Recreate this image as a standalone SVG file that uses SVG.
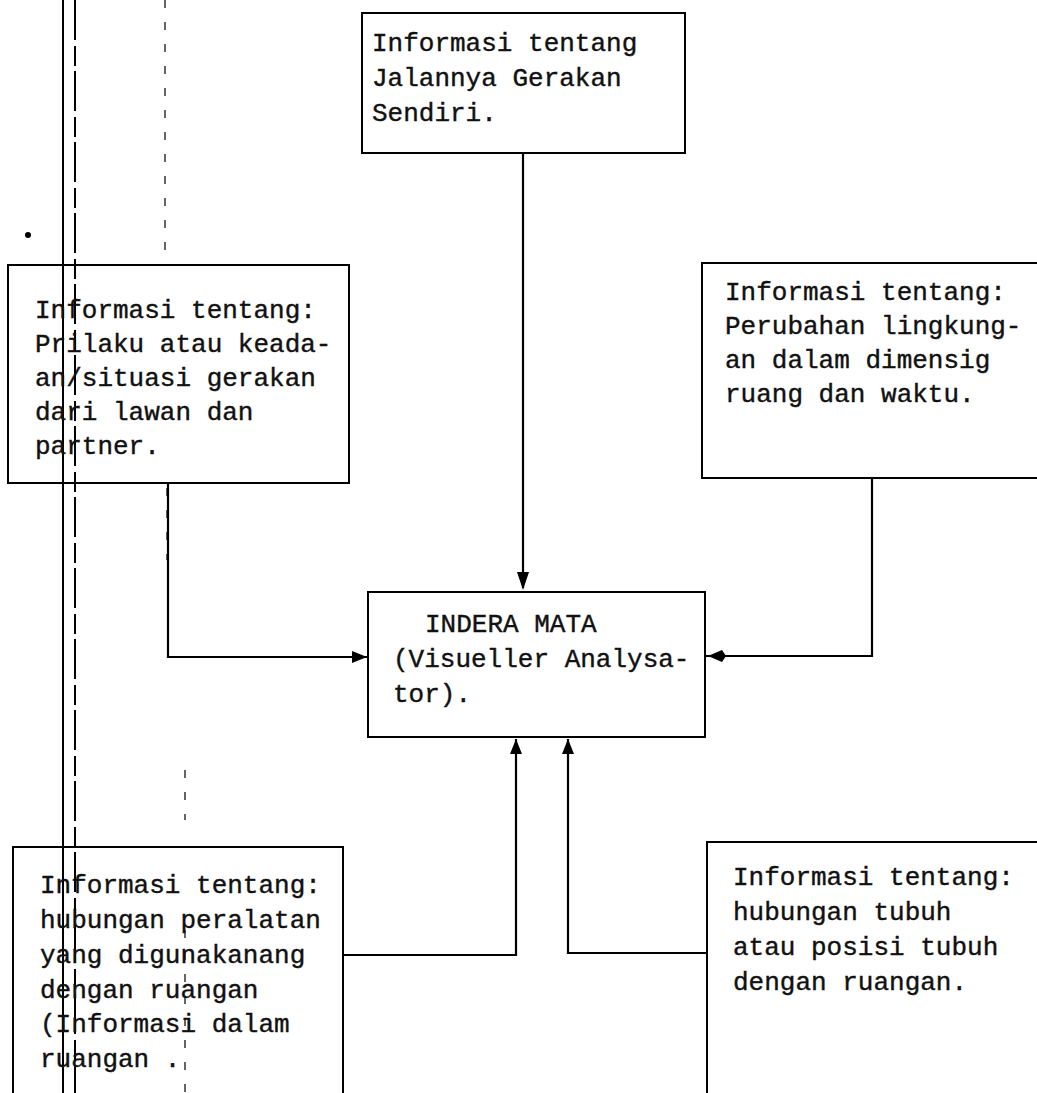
<svg xmlns="http://www.w3.org/2000/svg" width="1037" height="1093" viewBox="0 0 1037 1093">
<style>
.box{fill:none;stroke:#000;stroke-width:2}
.t{font-family:"Liberation Mono","DejaVu Sans Mono",monospace;font-size:26px;fill:#111;stroke:#111;stroke-width:0.4}
.c{fill:none;stroke:#000;stroke-width:2.2}
.m{fill:none;stroke:#000;stroke-width:2}
.d{fill:none;stroke:#000;stroke-width:1.2;stroke-dasharray:8 14}
</style>
<rect width="1037" height="1093" fill="#fff"/>
<g id="margin">
<line class="m" x1="63" y1="0" x2="63" y2="1093"/>
<line class="m" x1="75" y1="0" x2="75" y2="1093" stroke-dasharray="40 6 20 5"/>
<line class="d" x1="165" y1="0" x2="165" y2="260"/>
<line class="d" x1="167" y1="488" x2="167" y2="560"/>
<line class="d" x1="185" y1="770" x2="185" y2="820"/>
<line class="d" x1="185" y1="930" x2="185" y2="1093"/>
<circle cx="28" cy="235" r="3" fill="#000"/>
</g>
<g id="connectors">
<path class="c" d="M523,153 V588"/>
<path d="M517,572 L523,590 L529,572 Z" fill="#000"/>
<path class="c" d="M168,483 V657 H367"/>
<path d="M352,651 L367,657 L352,663 Z" fill="#000"/>
<path class="c" d="M872,478 V656 H706"/>
<path d="M708,656 L722,650 L726,656 L722,662 Z" fill="#000"/>
<path class="c" d="M343,955 H516 V739"/>
<path d="M510,754 L516,739 L522,754 Z" fill="#000"/>
<path class="c" d="M707,953 H568 V739"/>
<path d="M562,754 L568,739 L574,754 Z" fill="#000"/>
</g>
<g id="node-top">
<rect class="box" x="362" y="13" width="323" height="140"/>
<text class="t" x="372" y="51">Informasi tentang</text>
<text class="t" x="372" y="86">Jalannya Gerakan</text>
<text class="t" x="372" y="121">Sendiri.</text>
</g>
<g id="node-left">
<rect class="box" x="8" y="265" width="341" height="218"/>
<text class="t" x="35" y="318">Informasi tentang:</text>
<text class="t" x="35" y="352">Prilaku atau keada-</text>
<text class="t" x="35" y="386">an/situasi gerakan</text>
<text class="t" x="35" y="420">dari lawan dan</text>
<text class="t" x="35" y="454">partner.</text>
</g>
<g id="node-right">
<rect class="box" x="702" y="263" width="345" height="215"/>
<text class="t" x="725" y="300">Informasi tentang:</text>
<text class="t" x="725" y="334">Perubahan lingkung-</text>
<text class="t" x="725" y="368">an dalam dimensig</text>
<text class="t" x="725" y="402">ruang dan waktu.</text>
</g>
<g id="node-center">
<rect class="box" x="368" y="592" width="337" height="145"/>
<text class="t" x="425" y="632">INDERA MATA</text>
<text class="t" x="393" y="667">(Visueller Analysa-</text>
<text class="t" x="393" y="702">tor).</text>
</g>
<g id="node-bottom-left">
<rect class="box" x="13" y="847" width="330" height="260"/>
<text class="t" x="40" y="893">Informasi tentang:</text>
<text class="t" x="40" y="928">hubungan peralatan</text>
<text class="t" x="40" y="963">yang digunakanang</text>
<text class="t" x="40" y="998">dengan ruangan</text>
<text class="t" x="40" y="1032">(Informasi dalam</text>
<text class="t" x="40" y="1067">ruangan .</text>
</g>
<g id="node-bottom-right">
<rect class="box" x="707" y="842" width="340" height="265"/>
<text class="t" x="733" y="885">Informasi tentang:</text>
<text class="t" x="733" y="920">hubungan tubuh</text>
<text class="t" x="733" y="955">atau posisi tubuh</text>
<text class="t" x="733" y="990">dengan ruangan.</text>
</g>
</svg>
